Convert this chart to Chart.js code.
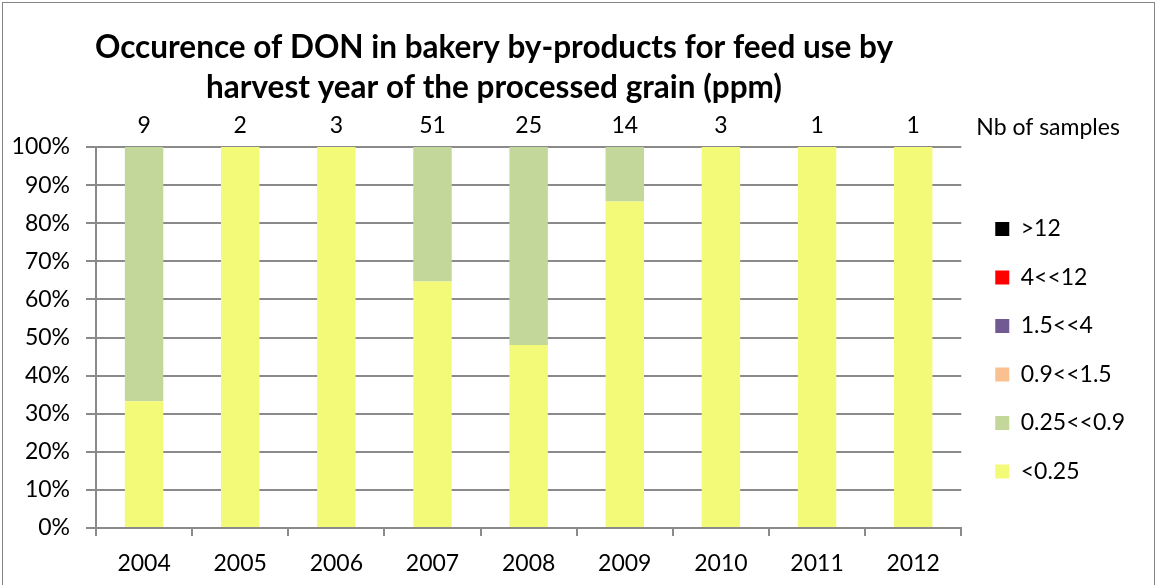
<!DOCTYPE html>
<html>
<head>
<meta charset="utf-8">
<script src="https://cdn.jsdelivr.net/npm/chart.js@4.4.1/dist/chart.umd.min.js"></script>
<style>
  html, body { margin: 0; padding: 0; background: #fff; }
  #wrap { width: 1157px; height: 585px; position: relative; }
</style>
</head>
<body>
<div id="wrap"><canvas id="chart"></canvas></div>
<script>
const years = ['2004', '2005', '2006', '2007', '2008', '2009', '2010', '2011', '2012']
const sampleCounts = [9, 2, 3, 51, 25, 14, 3, 1, 1]

// share of samples (%) per DON class, bottom of the stack first
const below025 = [33.3, 100, 100, 64.7, 48, 85.7, 100, 100, 100]
const from025to09 = [66.7, 0, 0, 35.3, 52, 14.3, 0, 0, 0]
const from09to15 = [0, 0, 0, 0, 0, 0, 0, 0, 0]
const from15to4 = [0, 0, 0, 0, 0, 0, 0, 0, 0]
const from4to12 = [0, 0, 0, 0, 0, 0, 0, 0, 0]
const above12 = [0, 0, 0, 0, 0, 0, 0, 0, 0]

const classLabels = ['<0.25', '0.25<<0.9', '0.9<<1.5', '1.5<<4', '4<<12', '>12']
const classColors = ['#f3fa78', '#c4d79b', '#fac090', '#705a91', '#ff0000', '#000000']
const yTicks = [0, 10, 20, 30, 40, 50, 60, 70, 80, 90, 100]

const titleLines = [
  'Occurence of DON in bakery by-products for feed use by',
  'harvest year of the processed grain (ppm)',
]

const FONT = 'Lato'
const GRID = '#8a8a8a'

const series = [below025, from025to09, from09to15, from15to4, from4to12, above12]
const datasets = series.map((data, i) => ({
  label: classLabels[i],
  data,
  backgroundColor: classColors[i],
  borderWidth: 0,
  barPercentage: 0.4,
  categoryPercentage: 1,
}))

// title, sample counts and frame
const extras = {
  id: 'extras',
  afterDraw(chart) {
    const { ctx, chartArea, scales: { x } } = chart
    ctx.save()
    ctx.strokeStyle = '#858585'
    ctx.lineWidth = 1
    ctx.strokeRect(2.5, 2.5, chart.width - 5, chart.height + 10)

    ctx.fillStyle = '#000'
    ctx.font = 'bold 31.5px ' + FONT
    ctx.textAlign = 'center'
    ctx.textBaseline = 'alphabetic'
    titleLines.forEach((t, i) => ctx.fillText(t, 494, 58 + i * 40))

    ctx.font = '23px ' + FONT
    ctx.textBaseline = 'middle'
    sampleCounts.forEach((n, i) => ctx.fillText(String(n), x.getPixelForValue(i), chartArea.top - 21))
    ctx.textAlign = 'left'
    ctx.fillText('Nb of samples', chartArea.right + 15, chartArea.top - 19)
    ctx.restore()
  },
}

new Chart(document.getElementById('chart'), {
  type: 'bar',
  data: { labels: years, datasets },
  plugins: [extras],
  options: {
    responsive: true,
    maintainAspectRatio: false,
    animation: false,
    layout: { padding: { top: 147, left: 4, right: 22, bottom: 0 } },
    plugins: {
      title: { display: false },
      tooltip: { enabled: false },
      legend: {
        position: 'right',
        fullSize: false,
        align: 'start',
        reverse: true,
        title: { display: true, text: '', padding: 0, font: { size: 37.5 } },
        labels: {
          boxWidth: 14,
          boxHeight: 14,
          padding: 25.5,
          color: '#000',
          font: { family: FONT, size: 23 },
        },
      },
    },
    scales: {
      x: {
        stacked: true,
        offset: true,
        grid: { offset: true, drawOnChartArea: false, drawTicks: true, tickLength: 8, color: GRID, lineWidth: 2 },
        border: { display: true, color: GRID, width: 2 },
        ticks: { color: '#000', padding: 14, font: { family: FONT, size: 23 } },
        afterFit: (s) => { s.height = 57 },
      },
      y: {
        stacked: true,
        min: 0,
        max: 100,
        afterBuildTicks: (s) => { s.ticks = yTicks.map((v) => ({ value: v })) },
        grid: { drawTicks: true, tickLength: 10, color: GRID, lineWidth: 2 },
        border: { display: true, color: GRID, width: 2 },
        ticks: { color: '#000', padding: 16, font: { family: FONT, size: 23 }, callback: (v) => v + '%' },
        afterFit: (s) => { s.width = 92 },
      },
      gap: {
        position: 'right',
        display: true,
        grid: { display: false },
        border: { display: false },
        ticks: { display: false },
        afterFit: (s) => { s.width = 8.5 },
      },
    },
  },
})
</script>
</body>
</html>
